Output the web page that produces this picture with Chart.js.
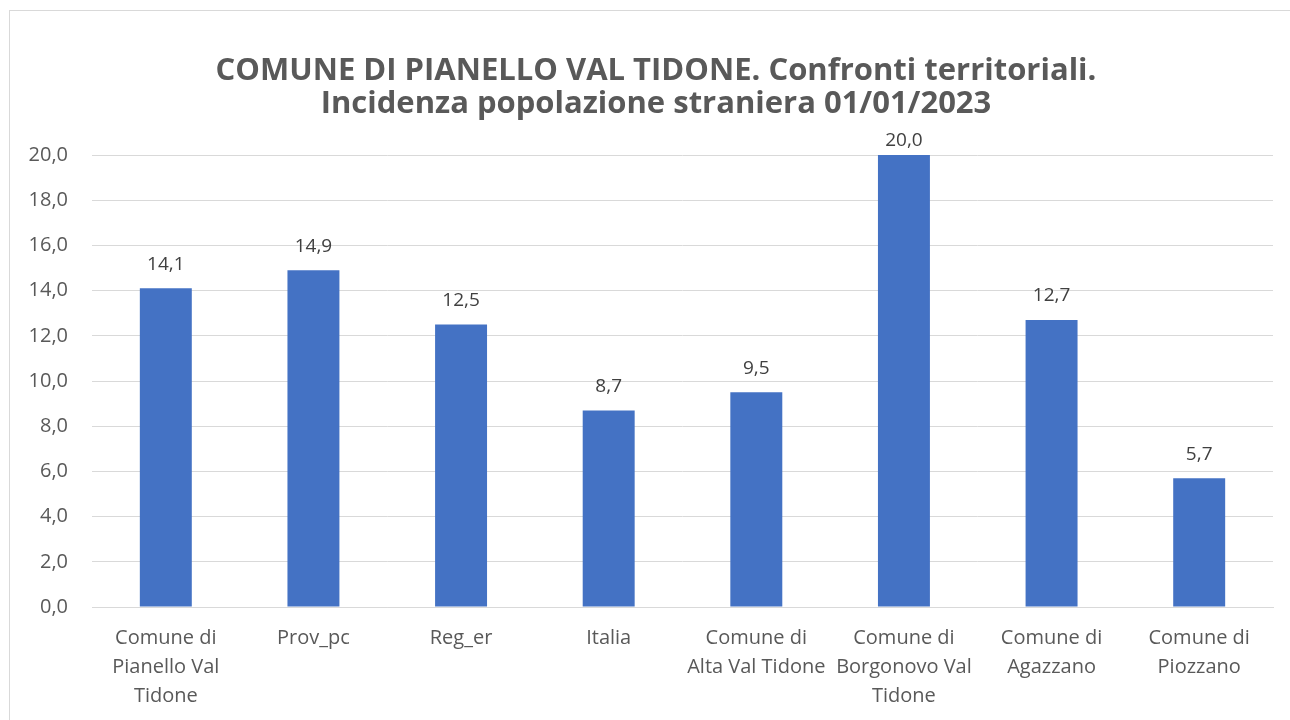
<!DOCTYPE html>
<html>
<head>
<meta charset="utf-8">
<script src="https://cdn.jsdelivr.net/npm/chart.js@4/dist/chart.umd.min.js"></script>
<style>
    html, body { margin: 0; padding: 0; background: #fff; overflow: hidden; }
    #wrap { position: relative; width: 1290px; height: 720px; }
    #frame { position: absolute; left: 9px; top: 10px; width: 1300px; height: 730px; border: 1px solid #d9d9d9; box-sizing: border-box; }
    canvas { position: absolute; left: 0; top: 0; }
</style>
</head>
<body>
<div id="wrap">
    <div id="frame"></div>
    <canvas id="chart" width="1290" height="720"></canvas>
</div>
<script>
const titleLines = ["COMUNE DI PIANELLO VAL TIDONE. Confronti territoriali.", "Incidenza popolazione straniera 01/01/2023"];
const categories = [
    ["Comune di", "Pianello Val", "Tidone"],
    ["Prov_pc"],
    ["Reg_er"],
    ["Italia"],
    ["Comune di", "Alta Val Tidone"],
    ["Comune di", "Borgonovo Val", "Tidone"],
    ["Comune di", "Agazzano"],
    ["Comune di", "Piozzano"],
];
const values = [14.1, 14.9, 12.5, 8.7, 9.5, 20.0, 12.7, 5.7];

const fontFamily = "'Open Sans', Lato, sans-serif";
const fmt = (v) => v.toFixed(1).replace(".", ",");

const titlePlugin = {
    id: "excelTitle",
    afterDraw(chart) {
        const ctx = chart.ctx;
        ctx.save();
        ctx.fillStyle = "#595959";
        ctx.font = "bold 31px " + fontFamily;
        ctx.textAlign = "center";
        ctx.textBaseline = "middle";
        ctx.fillText(titleLines[0], 656, 71);
        ctx.fillText(titleLines[1], 656, 104);
        ctx.restore();
    },
};

const valueLabelPlugin = {
    id: "valueLabels",
    afterDatasetsDraw(chart) {
        const ctx = chart.ctx;
        const meta = chart.getDatasetMeta(0);
        const top = chart.chartArea.top;
        ctx.save();
        ctx.fillStyle = "#404040";
        ctx.font = "19px " + fontFamily;
        ctx.textAlign = "center";
        ctx.textBaseline = "middle";
        meta.data.forEach((bar, i) => {
            // keep the label inside the plot like Excel does for the tallest bar
            const y = Math.max(bar.y - 24, top - 14);
            ctx.fillText(fmt(values[i]), bar.x, y);
        });
        ctx.restore();
    },
};

const ctx = document.getElementById("chart").getContext("2d");
new Chart(ctx, {
    type: "bar",
    data: {
        labels: categories,
        datasets: [
            {
                data: values,
                backgroundColor: "#4472C4",
                categoryPercentage: 1,
                barPercentage: 0.352,
            },
        ],
    },
    options: {
        responsive: false,
        animation: false,
        layout: {
            padding: { top: 155, right: 17, bottom: 0, left: 0 },
        },
        plugins: {
            legend: { display: false },
            tooltip: { enabled: false },
            title: { display: false },
        },
        scales: {
            x: {
                grid: { display: false, drawTicks: false },
                border: { color: "#d9d9d9", width: 1 },
                ticks: {
                    color: "#595959",
                    font: { family: fontFamily, size: 20, lineHeight: 1.45 },
                    padding: 17,
                    maxRotation: 0,
                    autoSkip: false,
                },
                afterFit(scale) {
                    scale.height = 113;
                },
            },
            y: {
                min: 0,
                max: 20,
                grid: { color: "#d9d9d9", lineWidth: 1, drawTicks: false },
                border: { display: false },
                ticks: {
                    stepSize: 2,
                    color: "#595959",
                    font: { family: fontFamily, size: 20 },
                    padding: 24,
                    callback: (v) => fmt(v),
                },
                afterFit(scale) {
                    scale.width = 92;
                },
            },
        },
    },
    plugins: [titlePlugin, valueLabelPlugin],
});
</script>
</body>
</html>
